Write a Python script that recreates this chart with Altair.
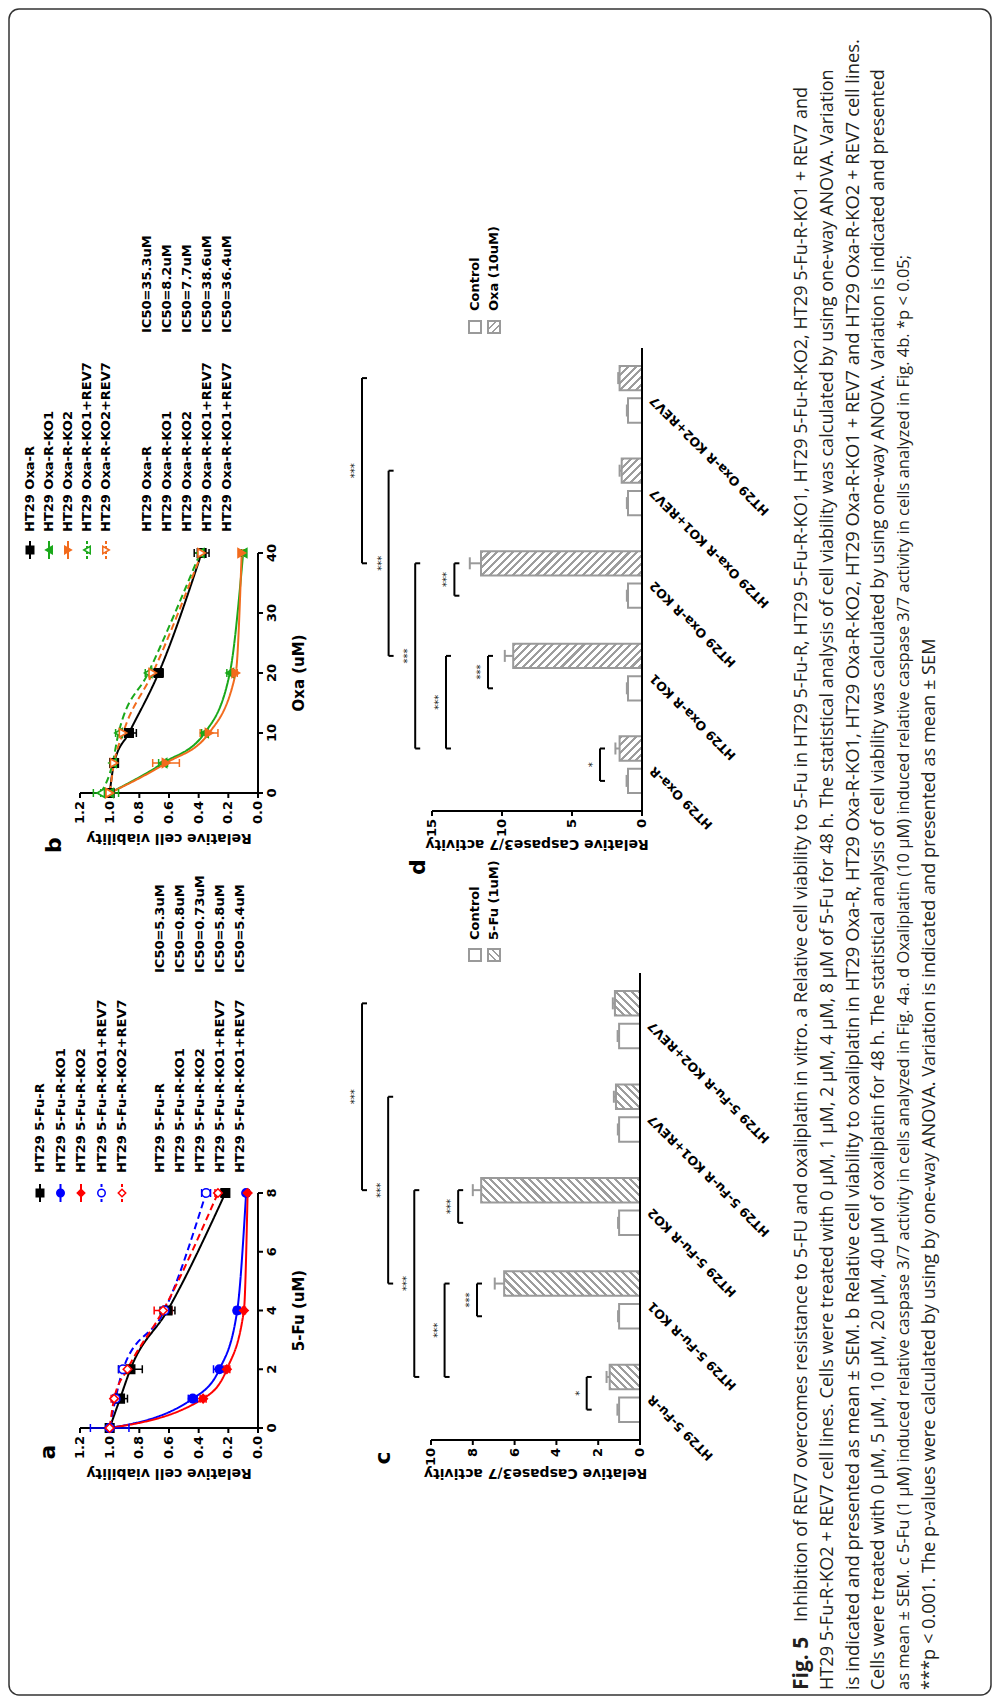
import math
import altair as alt
import pandas as pd

# ---------------- values ----------------
# panel a: viability vs 5-Fu
fu_doses = [0, 1, 2, 4, 8]
fu_series = ["HT29 5-Fu-R", "HT29 5-Fu-R-KO1", "HT29 5-Fu-R-KO2",
             "HT29 5-Fu-R-KO1+REV7", "HT29 5-Fu-R-KO2+REV7"]
fu_r = [1.00, 0.93, 0.86, 0.61, 0.22]
fu_ko1 = [1.00, 0.44, 0.26, 0.14, 0.08]
fu_ko2 = [1.00, 0.37, 0.21, 0.095, 0.07]
fu_ko1_rev7 = [1.00, 0.96, 0.91, 0.63, 0.35]
fu_ko2_rev7 = [1.00, 0.97, 0.88, 0.64, 0.27]
fu_r_err = [0.02, 0.05, 0.08, 0.05, 0.02]
fu_ko1_err = [0.13, 0.03, 0.04, 0.02, 0.01]
fu_ko2_err = [0.02, 0.02, 0.02, 0.01, 0.01]
fu_ko1_rev7_err = [0.02, 0.02, 0.03, 0.02, 0.03]
fu_ko2_rev7_err = [0.02, 0.02, 0.02, 0.06, 0.02]
fu_ic50_names = ["HT29 5-Fu-R", "HT29 5-Fu-R-KO1", "HT29 5-Fu-R-KO2",
                 "HT29 5-Fu-R-KO1+REV7", "HT29 5-Fu-R-KO1+REV7"]
fu_ic50 = ["IC50=5.3uM", "IC50=0.8uM", "IC50=0.73uM", "IC50=5.8uM", "IC50=5.4uM"]
fu_ticks = [0, 2, 4, 6, 8]

# panel b: viability vs oxaliplatin
oxa_doses = [0, 5, 10, 20, 40]
oxa_series = ["HT29 Oxa-R", "HT29 Oxa-R-KO1", "HT29 Oxa-R-KO2",
              "HT29 Oxa-R-KO1+REV7", "HT29 Oxa-R-KO2+REV7"]
oxa_r = [1.00, 0.97, 0.87, 0.67, 0.38]
oxa_ko1 = [1.00, 0.64, 0.36, 0.19, 0.10]
oxa_ko2 = [1.00, 0.62, 0.33, 0.15, 0.11]
oxa_ko1_rev7 = [1.06, 0.98, 0.94, 0.74, 0.39]
oxa_ko2_rev7 = [1.00, 0.97, 0.91, 0.71, 0.38]
oxa_r_err = [0.01, 0.02, 0.05, 0.03, 0.05]
oxa_ko1_err = [0.06, 0.03, 0.02, 0.02, 0.01]
oxa_ko2_err = [0.02, 0.09, 0.06, 0.01, 0.01]
oxa_ko1_rev7_err = [0.05, 0.01, 0.02, 0.02, 0.01]
oxa_ko2_rev7_err = [0.02, 0.01, 0.01, 0.02, 0.01]
oxa_ic50_names = ["HT29 Oxa-R", "HT29 Oxa-R-KO1", "HT29 Oxa-R-KO2",
                  "HT29 Oxa-R-KO1+REV7", "HT29 Oxa-R-KO1+REV7"]
oxa_ic50 = ["IC50=35.3uM", "IC50=8.2uM", "IC50=7.7uM", "IC50=38.6uM", "IC50=36.4uM"]
oxa_ticks = [0, 10, 20, 30, 40]

via_ticks = [0.0, 0.2, 0.4, 0.6, 0.8, 1.0, 1.2]
via_tick_labels = ["0.0", "0.2", "0.4", "0.6", "0.8", "1.0", "1.2"]

# panel c: caspase 3/7, 5-Fu (1uM)
c_cats = ["HT29 5-Fu-R", "HT29 5-Fu-R KO1", "HT29 5-Fu-R KO2",
          "HT29 5-Fu-R KO1+REV7", "HT29 5-Fu-R KO2+REV7"]
c_ctrl = [1.0, 1.0, 1.0, 1.0, 1.0]
c_ctrl_err = [0.08, 0.05, 0.05, 0.06, 0.07]
c_trt = [1.45, 6.5, 7.6, 1.15, 1.2]
c_trt_err = [0.15, 0.45, 0.4, 0.1, 0.1]
c_ticks = [0, 2, 4, 6, 8, 10]
c_long_from = [2, 1, 0, 0]
c_long_to = [4, 3, 2, 1]
c_long_level = [13.3, 12.05, 10.8, 9.35]
c_short_cat = [2, 1, 0]
c_short_level = [8.7, 7.8, 2.55]
c_short_star = ["***", "***", "*"]

# panel d: caspase 3/7, Oxa (10uM)
d_cats = ["HT29 Oxa-R", "HT29 Oxa-R KO1", "HT29 Oxa-R KO2",
          "HT29 Oxa-R KO1+REV7", "HT29 Oxa-R KO2+REV7"]
d_ctrl = [1.0, 1.0, 1.0, 1.0, 1.0]
d_ctrl_err = [0.1, 0.08, 0.08, 0.08, 0.08]
d_trt = [1.6, 9.2, 11.5, 1.45, 1.6]
d_trt_err = [0.3, 0.6, 0.8, 0.15, 0.1]
d_ticks = [0, 5, 10, 15]
d_long_from = [2, 1, 0, 0]
d_long_to = [4, 3, 2, 1]
d_long_level = [20.0, 18.1, 16.2, 14.0]
d_short_cat = [2, 1, 0]
d_short_level = [13.4, 11.0, 3.0]
d_short_star = ["***", "***", "*"]

caption_first = "Fig. 5"
caption_lines = [
    "Inhibition of REV7 overcomes resistance to 5-FU and oxaliplatin in vitro. a Relative cell viability to 5-Fu in HT29 5-Fu-R, HT29 5-Fu-R-KO1, HT29 5-Fu-R-KO2, HT29 5-Fu-R-KO1 + REV7 and",
    "HT29 5-Fu-R-KO2 + REV7 cell lines. Cells were treated with 0 μM, 1 μM, 2 μM, 4 μM, 8 μM of 5-Fu for 48 h. The statistical analysis of cell viability was calculated by using one-way ANOVA. Variation",
    "is indicated and presented as mean ± SEM. b Relative cell viability to oxaliplatin in HT29 Oxa-R, HT29 Oxa-R-KO1, HT29 Oxa-R-KO2, HT29 Oxa-R-KO1 + REV7 and HT29 Oxa-R-KO2 + REV7 cell lines.",
    "Cells were treated with 0 μM, 5 μM, 10 μM, 20 μM, 40 μM of oxaliplatin for 48 h. The statistical analysis of cell viability was calculated by using one-way ANOVA. Variation is indicated and presented",
    "as mean ± SEM. c 5-Fu (1 μM) induced relative caspase 3/7 activity in cells analyzed in Fig. 4a. d Oxaliplatin (10 μM) induced relative caspase 3/7 activity in cells analyzed in Fig. 4b. *p < 0.05;",
    "***p < 0.001. The p-values were calculated by using by one-way ANOVA. Variation is indicated and presented as mean ± SEM",
]

# ---------------- layout / style ----------------
OFF = 9
W, H = 982, 1686
FIG = "DejaVu Sans"
CAP = "Open Sans"
GREY = "#9a9a9a"
caption_font_sizes = [18.1, 18.1, 18.4, 17.9, 16.5, 18.2]   # justified lines


def P(v):
    return v - OFF


TXT = dict(font=FIG, fontWeight="bold", color="black")


def hatch(w, h, direction, period=5.5, frac=0.4, color="#9d9d9d"):
    w = max(w, 1.0)
    r = h / w
    s = (1 + r) / (1 + r * r)
    if direction == "back":
        x1, y1, x2, y2 = 0, 1, s, 1 - r * s
    else:
        x1, y1, x2, y2 = 0, 0, s, r * s
    n = (w + h) / (math.sqrt(2) * period)
    stops = []
    k = 0
    while k < n:
        a = round(k / n, 5)
        b = round(min((k + frac) / n, 1.0), 5)
        stops += [{"offset": a, "color": "white"}, {"offset": a, "color": color},
                  {"offset": b, "color": color}, {"offset": b, "color": "white"}]
        k += 1
    stops.append({"offset": 1, "color": "white"})
    return {"gradient": "linear", "x1": x1, "y1": y1, "x2": x2, "y2": y2, "stops": stops}


def curve_panel(doses, series, means, errs, dose_ticks, dose_title,
                y0, y1, colors, shapes, fills):
    dose_max = dose_ticks[-1]
    rows = []
    for s, m, e in zip(series, means, errs):
        for d, v, ee in zip(doses, m, e):
            rows.append({"series": s, "dose": d, "v": v, "lo": v - ee, "hi": v + ee})
    df = pd.DataFrame(rows)
    xs = alt.Scale(domain=[0, 1.2], range=[P(258), P(80)], nice=False, zero=False)
    ys = alt.Scale(domain=[0, dose_max], range=[P(y0), P(y1)], nice=False, zero=False)
    XV = lambda f: alt.X(f, scale=xs, axis=None)
    YD = lambda f: alt.Y(f, scale=ys, axis=None)
    col = alt.Color("series:N", scale=alt.Scale(domain=series, range=colors), legend=None)
    dash = alt.StrokeDash("series:N", scale=alt.Scale(
        domain=series, range=[[1, 0], [1, 0], [1, 0], [7, 4], [7, 4]]), legend=None)
    shp = alt.Shape("series:N", scale=alt.Scale(domain=series, range=shapes), legend=None)
    fil = alt.Fill("series:N", scale=alt.Scale(domain=series, range=fills), legend=None)
    stk = alt.Stroke("series:N", scale=alt.Scale(domain=series, range=colors), legend=None)

    # hand-drawn axes (through the same scales)
    dom = alt.Chart(pd.DataFrame({"v0": [0.0], "v1": [1.2], "d0": [0.0],
                                  "d1": [float(dose_max)]}))
    xline = dom.mark_rule(color="black", strokeWidth=2).encode(
        x=XV("v0:Q"), x2="v1:Q", y=YD("d0:Q"))
    yline = dom.mark_rule(color="black", strokeWidth=2).encode(
        x=XV("v0:Q"), y=YD("d0:Q"), y2="d1:Q")
    vt = alt.Chart(pd.DataFrame({"t": via_ticks, "lab": via_tick_labels, "z": 0.0}))
    vticks = vt.mark_point(shape="M0,0L0,1", size=100, color="black", strokeWidth=2,
                           opacity=1).encode(x=XV("t:Q"), y=YD("z:Q"))
    vlabs = vt.mark_text(angle=270, align="right", baseline="middle", dx=-8, fontSize=13,
                         **TXT).encode(x=XV("t:Q"), y=YD("z:Q"), text="lab:N")
    dt = alt.Chart(pd.DataFrame({"t": dose_ticks, "lab": [str(t) for t in dose_ticks],
                                 "z": 0.0}))
    dticks = dt.mark_point(shape="M0,0L1,0", size=100, color="black", strokeWidth=2,
                           opacity=1).encode(x=XV("z:Q"), y=YD("t:Q"))
    dlabs = dt.mark_text(angle=270, align="center", baseline="top", dy=8, fontSize=13,
                         **TXT).encode(x=XV("z:Q"), y=YD("t:Q"), text="lab:N")
    tt = alt.Chart(pd.DataFrame({"vt": ["Relative cell viability"], "vm": [0.6],
                                 "dtl": [dose_title], "dm": [dose_max / 2]}))
    vtitle = tt.mark_text(angle=180, align="center", baseline="middle", fontSize=14,
                          **TXT).encode(x=XV("vm:Q"), y=alt.value(P(y0 + 45)), text="vt:N")
    dtitle = tt.mark_text(angle=270, align="center", baseline="middle", fontSize=15,
                          **TXT).encode(x=alt.value(P(299)), y=YD("dm:Q"), text="dtl:N")

    base = alt.Chart(df)
    lines = base.mark_line(strokeWidth=2, interpolate="monotone").encode(
        x=XV("v:Q"), y=YD("dose:Q"), color=col, strokeDash=dash, order="dose:Q")
    err = base.mark_rule(strokeWidth=1.5).encode(
        x=XV("lo:Q"), x2="hi:Q", y=YD("dose:Q"), color=col)
    caps = base.transform_fold(["lo", "hi"], as_=["end", "ev"]).mark_point(
        shape="M0,-1L0,1", size=64, strokeWidth=1.5, opacity=1).encode(
        x=XV("ev:Q"), y=YD("dose:Q"), color=col)
    pts = base.mark_point(filled=True, size=72, strokeWidth=1.6, opacity=1).encode(
        x=XV("v:Q"), y=YD("dose:Q"), shape=shp, fill=fil, stroke=stk)
    return alt.layer(xline, yline, vticks, vlabs, dticks, dlabs, vtitle, dtitle,
                     lines, err, caps, pts)


def curve_legend(series, colors, shapes, fills, x0, x1, sym_y, txt_y):
    leg = pd.DataFrame({"series": series})
    lx = alt.X("series:N", scale=alt.Scale(type="point", domain=series,
                                           range=[P(x0), P(x1)], padding=0), axis=None)
    col = alt.Color("series:N", scale=alt.Scale(domain=series, range=colors), legend=None)
    dash = alt.StrokeDash("series:N", scale=alt.Scale(
        domain=series, range=[[1, 0], [1, 0], [1, 0], [3, 2], [3, 2]]), legend=None)
    shp = alt.Shape("series:N", scale=alt.Scale(domain=series, range=shapes), legend=None)
    fil = alt.Fill("series:N", scale=alt.Scale(domain=series, range=fills), legend=None)
    stk = alt.Stroke("series:N", scale=alt.Scale(domain=series, range=colors), legend=None)
    b = alt.Chart(leg)
    seg = b.mark_rule(strokeWidth=2).encode(
        x=lx, y=alt.value(P(sym_y - 9)), y2=alt.value(P(sym_y + 9)), color=col, strokeDash=dash)
    sym = b.mark_point(filled=True, size=56, strokeWidth=1.5, opacity=1).encode(
        x=lx, y=alt.value(P(sym_y)), shape=shp, fill=fil, stroke=stk)
    txt = b.mark_text(angle=270, align="left", baseline="middle", fontSize=13, **TXT).encode(
        x=lx, y=alt.value(P(txt_y)), text="series:N")
    return alt.layer(seg, sym, txt)


def ic50_table(names, values, x0, x1, name_y, val_y):
    df = pd.DataFrame({"i": list(range(len(names))), "name": names, "ic": values})
    ix = alt.X("i:Q", scale=alt.Scale(domain=[0, len(names) - 1], range=[P(x0), P(x1)],
                                      nice=False, zero=False), axis=None)
    b = alt.Chart(df)
    kw = dict(angle=270, align="left", baseline="middle", fontSize=13, **TXT)
    t1 = b.mark_text(**kw).encode(x=ix, y=alt.value(P(name_y)), text="name:N")
    t2 = b.mark_text(**kw).encode(x=ix, y=alt.value(P(val_y)), text="ic:N")
    return alt.layer(t1, t2)


SUB = 0.175  # centre of a sub-bar inside its group, in category units


def bar_panel(cats, ctrl, ctrl_err, trt, trt_err, vticks, x0, x1, yb, yt,
              direction, long_from, long_to, long_level, short_cat, short_level,
              short_star):
    vmax = vticks[-1]
    n = len(cats)
    ppu = (x0 - x1) / vmax
    step = (yb - yt) / n
    bar_t = step * 0.7 * 0.5 * 0.75
    rows = []
    for i, c in enumerate(cats):
        rows.append({"cat": c, "grp": "Control", "v": ctrl[i], "hi": ctrl[i] + ctrl_err[i],
                     "paint": "white"})
        rows.append({"cat": c, "grp": "Treated", "v": trt[i], "hi": trt[i] + trt_err[i],
                     "paint": hatch(trt[i] * ppu, bar_t, direction)})
    data = alt.Data(values=rows)
    xs = alt.Scale(domain=[0, vmax], range=[P(x0), P(x1)], nice=False, zero=False)
    ys = alt.Scale(domain=cats, range=[P(yb), P(yt)], paddingInner=0.3, paddingOuter=0.15)
    yo = alt.YOffset("grp:N", scale=alt.Scale(domain=["Treated", "Control"],
                                              paddingInner=0.25, paddingOuter=0.125))
    XV = lambda f: alt.X(f, scale=xs, axis=None)
    base = alt.Chart(data)
    err = base.mark_rule(color=GREY, strokeWidth=2).encode(
        x=XV("v:Q"), x2="hi:Q", y=alt.Y("cat:N", scale=ys, axis=None), yOffset=yo)
    cap = base.mark_point(shape="M0,-1L0,1", size=144, color=GREY, strokeWidth=2,
                          opacity=1).encode(
        x=XV("hi:Q"), y=alt.Y("cat:N", scale=ys, axis=None), yOffset=yo)
    bars = base.mark_bar(stroke=GREY, strokeWidth=2).encode(
        x=alt.X("v:Q", scale=xs, axis=None, stack=None),
        y=alt.Y("cat:N", scale=ys, axis=None), yOffset=yo,
        fill=alt.Fill("paint:N", scale=None))
    group = alt.layer(err, cap, bars)

    # annotations and hand-drawn axes on a linear category-index scale
    yl = alt.Scale(domain=[-0.5, n - 0.5], range=[P(yb), P(yt)], nice=False, zero=False)
    YL = lambda f: alt.Y(f, scale=yl, axis=None)
    srows = []
    for a, b, lv in zip(long_from, long_to, long_level):
        srows.append({"level": lv, "p1": a + SUB, "p2": b + SUB,
                      "mid": (a + b) / 2 + SUB, "star": "***"})
    for c, lv, st in zip(short_cat, short_level, short_star):
        srows.append({"level": lv, "p1": c - SUB, "p2": c + SUB, "mid": c, "star": st})
    sig = alt.Chart(alt.Data(values=srows))
    brk = sig.mark_rule(color="black", strokeWidth=2).encode(
        x=XV("level:Q"), y=YL("p1:Q"), y2="p2:Q")
    ends = sig.transform_fold(["p1", "p2"], as_=["which", "pe"]).mark_point(
        shape="M0,0L1,0", size=100, color="black", strokeWidth=2, opacity=1).encode(
        x=XV("level:Q"), y=YL("pe:Q"))
    stars = sig.mark_text(angle=270, align="center", baseline="bottom", dy=-2, font=FIG,
                          fontSize=10, color="#222222").encode(
        x=XV("level:Q"), y=YL("mid:Q"), text="star:N")

    dom = alt.Chart(pd.DataFrame({"v0": [0.0], "v1": [float(vmax)], "c0": [-0.5],
                                  "c1": [n - 0.5]}))
    xline = dom.mark_rule(color="black", strokeWidth=2).encode(
        x=XV("v0:Q"), x2="v1:Q", y=YL("c0:Q"))
    yline = dom.mark_rule(color="black", strokeWidth=2).encode(
        x=XV("v0:Q"), y=YL("c0:Q"), y2="c1:Q")
    vt = alt.Chart(pd.DataFrame({"t": vticks, "lab": [str(t) for t in vticks], "z": -0.5}))
    tks = vt.mark_point(shape="M0,0L0,1", size=100, color="black", strokeWidth=2,
                        opacity=1).encode(x=XV("t:Q"), y=YL("z:Q"))
    labs = vt.mark_text(angle=270, align="right", baseline="middle", dx=-8, fontSize=13,
                        **TXT).encode(x=XV("t:Q"), y=YL("z:Q"), text="lab:N")
    ct = alt.Chart(pd.DataFrame({"i": list(range(n)), "cat": cats, "z": 0.0}))
    clabs = ct.mark_text(angle=225, align="right", baseline="middle", dx=-9.9, dy=4.2,
                         fontSize=12.5, **TXT).encode(x=XV("z:Q"), y=YL("i:Q"), text="cat:N")
    tt = alt.Chart(pd.DataFrame({"t": ["Relative Caspase3/7 activity"], "m": [vmax / 2]}))
    title = tt.mark_text(angle=180, align="center", baseline="middle", fontSize=14,
                         **TXT).encode(x=XV("m:Q"), y=alt.value(P(yb + 33)), text="t:N")
    ann = alt.layer(xline, yline, tks, labs, clabs, title, brk, ends, stars)
    return alt.layer(group, ann).resolve_scale(y="independent")


def bar_legend(labels, direction, x0, x1, sym_y, txt_y):
    rows = [{"lab": labels[0], "paint": "white"},
            {"lab": labels[1], "paint": hatch(12, 12, direction, period=5)}]
    lx = alt.X("lab:N", scale=alt.Scale(type="point", domain=labels, range=[P(x0), P(x1)],
                                        padding=0), axis=None)
    b = alt.Chart(alt.Data(values=rows))
    sq = b.mark_point(shape="square", size=144, filled=True, stroke=GREY, strokeWidth=2,
                      opacity=1).encode(x=lx, y=alt.value(P(sym_y)),
                                        fill=alt.Fill("paint:N", scale=None))
    tx = b.mark_text(angle=270, align="left", baseline="middle", fontSize=13, **TXT).encode(
        x=lx, y=alt.value(P(txt_y)), text="lab:N")
    return alt.layer(sq, tx)


def letter(t, x, y):
    return alt.Chart(alt.Data(values=[{"t": t}])).mark_text(
        angle=270, align="center", baseline="middle", fontSize=22, **TXT).encode(
        x=alt.value(P(x)), y=alt.value(P(y)), text="t:N")


# ---------------- build ----------------
a_colors = ["#000000", "#0000ff", "#ff0000", "#0000ff", "#ff0000"]
a_shapes = ["square", "circle", "diamond", "circle", "diamond"]
a_fills = ["#000000", "#0000ff", "#ff0000", "#ffffff", "#ffffff"]
b_colors = ["#000000", "#1aa81a", "#f26b1d", "#1aa81a", "#f26b1d"]
b_shapes = ["square", "triangle-left", "triangle-right", "triangle-left", "triangle-right"]
b_fills = ["#000000", "#1aa81a", "#f26b1d", "#ffffff", "#ffffff"]

panel_a = curve_panel(fu_doses, fu_series,
                      [fu_r, fu_ko1, fu_ko2, fu_ko1_rev7, fu_ko2_rev7],
                      [fu_r_err, fu_ko1_err, fu_ko2_err, fu_ko1_rev7_err, fu_ko2_rev7_err],
                      fu_ticks, "5-Fu (uM)", 1428, 1193, a_colors, a_shapes, a_fills)
legend_a = curve_legend(fu_series, a_colors, a_shapes, a_fills, 40, 122, 1193, 1173)
ic_a = ic50_table(fu_ic50_names, fu_ic50, 160, 240, 1173, 973)

panel_b = curve_panel(oxa_doses, oxa_series,
                      [oxa_r, oxa_ko1, oxa_ko2, oxa_ko1_rev7, oxa_ko2_rev7],
                      [oxa_r_err, oxa_ko1_err, oxa_ko2_err, oxa_ko1_rev7_err, oxa_ko2_rev7_err],
                      oxa_ticks, "Oxa (uM)", 793, 553, b_colors, b_shapes, b_fills)
legend_b = curve_legend(oxa_series, b_colors, b_shapes, b_fills, 30, 106, 550, 532)
ic_b = ic50_table(oxa_ic50_names, oxa_ic50, 147, 227, 532, 333)

panel_c = bar_panel(c_cats, c_ctrl, c_ctrl_err, c_trt, c_trt_err, c_ticks,
                    640, 431, 1440, 973, "back", c_long_from, c_long_to, c_long_level,
                    c_short_cat, c_short_level, c_short_star)
legend_c = bar_legend(["Control", "5-Fu (1uM)"], "back", 475, 494, 955, 940)

panel_d = bar_panel(d_cats, d_ctrl, d_ctrl_err, d_trt, d_trt_err, d_ticks,
                    642, 432, 811, 348, "fwd", d_long_from, d_long_to, d_long_level,
                    d_short_cat, d_short_level, d_short_star)
legend_d = bar_legend(["Control", "Oxa (10uM)"], "fwd", 475, 494, 327, 311)

cap_x = alt.X("line:Q", scale=alt.Scale(domain=[1, 6], range=[P(802), P(930)],
                                        nice=False, zero=False), axis=None)
cap_kw = dict(angle=270, align="left", baseline="middle", font=CAP, color="#231f20")
cap_layers = [alt.Chart(pd.DataFrame({"line": [1], "text": [caption_first]})).mark_text(
    fontWeight="bold", fontSize=21, **cap_kw).encode(
    x=cap_x, y=alt.value(P(1690)), text="text:N")]
for k, (txt, fs) in enumerate(zip(caption_lines, caption_font_sizes)):
    start = 1622 if k == 0 else 1690
    cap_layers.append(alt.Chart(pd.DataFrame({"line": [k + 1], "text": [txt]})).mark_text(
        fontSize=fs, **cap_kw).encode(x=cap_x, y=alt.value(P(start)), text="text:N"))
caption = alt.layer(*cap_layers)

letters = alt.layer(letter("a", 48, 1452), letter("b", 54, 845),
                    letter("c", 383, 1458), letter("d", 418, 867))

chart = alt.layer(
    panel_a, legend_a, ic_a, panel_b, legend_b, ic_b,
    panel_c, legend_c, panel_d, legend_d, caption, letters
).resolve_scale(
    x="independent", y="independent", color="independent", fill="independent",
    stroke="independent", shape="independent", strokeDash="independent",
    yOffset="independent"
).properties(
    width=W, height=H, padding=1, background="white",
    autosize=alt.AutoSizeParams(type="none")
).configure_view(stroke="#333333", strokeWidth=1.5, cornerRadius=10)

chart.save("out.html", embed_options={"renderer": "svg", "actions": False})
